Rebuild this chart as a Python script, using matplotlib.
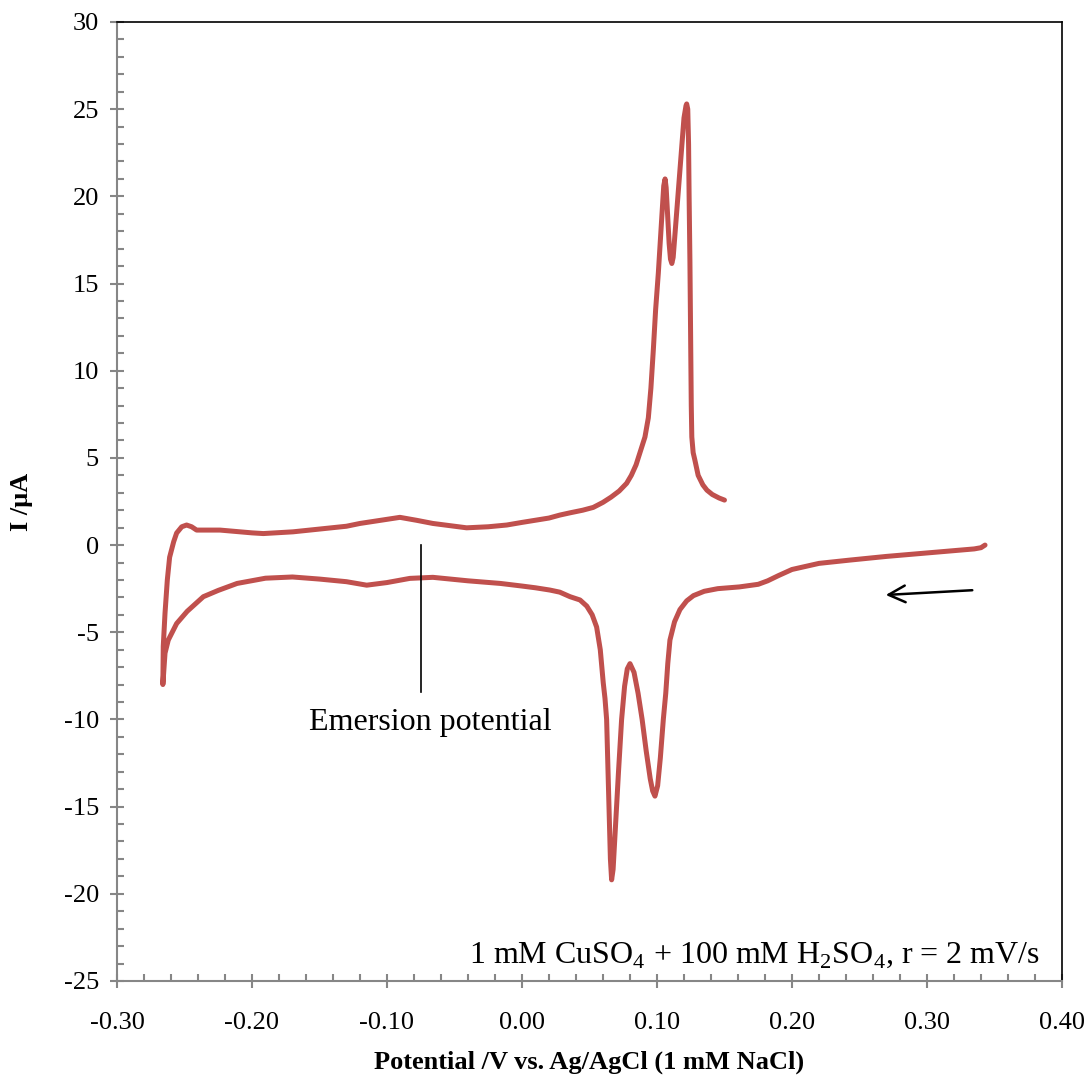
import matplotlib
matplotlib.use('Agg')
import matplotlib.pyplot as plt
from matplotlib.ticker import MultipleLocator, FormatStrFormatter

plt.rcParams['font.family'] = ['Liberation Serif', 'DejaVu Serif']
plt.rcParams['mathtext.fontset'] = 'custom'
plt.rcParams['mathtext.rm'] = 'Liberation Serif'
plt.rcParams['axes.unicode_minus'] = False

# cathodic scan (0.343 V -> -0.266 V), lower branch
lower_E = [0.343, 0.340, 0.335, 0.300, 0.270, 0.243, 0.220, 0.200, 0.190, 0.182,
           0.175, 0.161, 0.145, 0.135, 0.127, 0.122, 0.117, 0.113, 0.1096, 0.108,
           0.1065, 0.1047, 0.1025, 0.1005, 0.0985, 0.0968, 0.095, 0.092, 0.089, 0.086,
           0.083, 0.080, 0.078, 0.076, 0.0738, 0.0715, 0.069, 0.0675, 0.0664, 0.0655,
           0.0645, 0.0635, 0.0627, 0.0615, 0.0602, 0.058, 0.0553, 0.052, 0.048, 0.043,
           0.0356, 0.028, 0.0207, 0.010, 0.000, -0.016, -0.040, -0.066, -0.083, -0.100,
           -0.115, -0.130, -0.150, -0.170, -0.190, -0.211, -0.225, -0.236, -0.248, -0.2558,
           -0.262, -0.2644, -0.266]
lower_I = [0.0, -0.15, -0.22, -0.45, -0.65, -0.86, -1.05, -1.4, -1.75, -2.05,
           -2.25, -2.4, -2.5, -2.65, -2.9, -3.2, -3.7, -4.4, -5.45, -6.8,
           -8.5, -10.0, -12.2, -13.8, -14.4, -14.1, -13.4, -11.8, -10.0, -8.5,
           -7.3, -6.8, -7.1, -8.1, -10.0, -13.0, -16.5, -18.6, -19.2, -18.0,
           -15.2, -12.5, -10.0, -8.8, -7.9, -6.0, -4.7, -4.0, -3.5, -3.15,
           -2.96, -2.7, -2.58, -2.45, -2.35, -2.2, -2.05, -1.85, -1.91, -2.15,
           -2.3, -2.1, -1.95, -1.83, -1.9, -2.2, -2.6, -2.96, -3.8, -4.5,
           -5.45, -6.2, -8.0]

# anodic scan (-0.266 V -> 0.150 V), upper branch
upper_E = [-0.266, -0.2657, -0.2644, -0.2627, -0.261, -0.258, -0.2558, -0.252, -0.2484, -0.2447,
           -0.241, -0.2237, -0.200, -0.1916, -0.1696, -0.1496, -0.130, -0.120, -0.105, -0.0904,
           -0.078, -0.066, -0.041, -0.025, -0.0113, 0.000, 0.020, 0.028, 0.0356, 0.045,
           0.0528, 0.060, 0.066, 0.072, 0.0775, 0.081, 0.0845, 0.0874, 0.0895, 0.0911,
           0.0936, 0.0955, 0.0973, 0.099, 0.101, 0.1025, 0.104, 0.105, 0.106, 0.1068,
           0.1078, 0.109, 0.110, 0.111, 0.112, 0.1135, 0.1155, 0.118, 0.120, 0.1215,
           0.122, 0.1228, 0.1234, 0.1238, 0.1244, 0.125, 0.1254, 0.1258, 0.1268, 0.128,
           0.1305, 0.134, 0.137, 0.141, 0.146, 0.150]
upper_I = [-8.0, -5.8, -3.9, -2.0, -0.7, 0.19, 0.69, 1.05, 1.15, 1.05,
           0.86, 0.86, 0.7, 0.66, 0.76, 0.92, 1.08, 1.24, 1.42, 1.59,
           1.42, 1.24, 0.99, 1.05, 1.15, 1.3, 1.55, 1.72, 1.85, 2.0,
           2.16, 2.45, 2.75, 3.1, 3.54, 4.0, 4.6, 5.3, 5.8, 6.2,
           7.3, 9.0, 11.2, 13.5, 15.6, 17.5, 19.5, 20.6, 21.0, 20.5,
           19.0, 17.3, 16.4, 16.15, 16.5, 18.0, 20.0, 22.5, 24.5, 25.2,
           25.3, 25.0, 23.0, 20.0, 16.3, 11.0, 8.0, 6.2, 5.3, 4.9,
           4.0, 3.45, 3.15, 2.9, 2.7, 2.58]

E = lower_E + upper_E
I = lower_I + upper_I

emersion_E = -0.075
emersion_I = [0.0, -8.4]

fig = plt.figure(figsize=(10.89, 10.89), dpi=100)
ax = fig.add_axes([0.1074, 0.0992, 0.8678, 0.8806])

ax.plot(E, I, color='#C0504D', lw=3.6, solid_joinstyle='round', solid_capstyle='round')

ax.plot([emersion_E, emersion_E], emersion_I, color='black', lw=1.2)
ax.text(-0.068, -10.2, 'Emersion potential', fontsize=23, ha='center', va='center')

ax.annotate('', xy=(0.2674, -2.87), xytext=(0.3356, -2.58),
            arrowprops=dict(arrowstyle='->', color='black', lw=1.8, mutation_scale=30))

ax.text(0.384, -23.5, '1 mM CuSO$_4$ + 100 mM H$_2$SO$_4$, r = 2 mV/s',
        fontsize=23, ha='right', va='center')

ax.set_xlim(-0.30, 0.40)
ax.set_ylim(-25, 30)
ax.xaxis.set_major_locator(MultipleLocator(0.10))
ax.xaxis.set_minor_locator(MultipleLocator(0.02))
ax.yaxis.set_major_locator(MultipleLocator(5))
ax.yaxis.set_minor_locator(MultipleLocator(1))
ax.xaxis.set_major_formatter(FormatStrFormatter('%.2f'))
ax.yaxis.set_major_formatter(FormatStrFormatter('%d'))

gray = '#868686'
for s in ['left', 'bottom']:
    ax.spines[s].set_color(gray)
    ax.spines[s].set_linewidth(1.5)
for s in ['top', 'right']:
    ax.spines[s].set_color('black')
    ax.spines[s].set_linewidth(1.2)

ax.tick_params(which='major', direction='inout', length=10, width=1.5, color=gray,
               labelsize=19, pad=8)
ax.tick_params(which='minor', direction='in', length=5, width=1.5, color=gray)
ax.tick_params(axis='x', which='major', pad=17)

ax.set_xlabel('Potential /V vs. Ag/AgCl (1 mM NaCl)', fontsize=19, fontweight='bold', labelpad=12)
ax.set_ylabel('I /μA', fontsize=19, fontweight='bold', labelpad=22)

fig.savefig('out.png', dpi=100)
